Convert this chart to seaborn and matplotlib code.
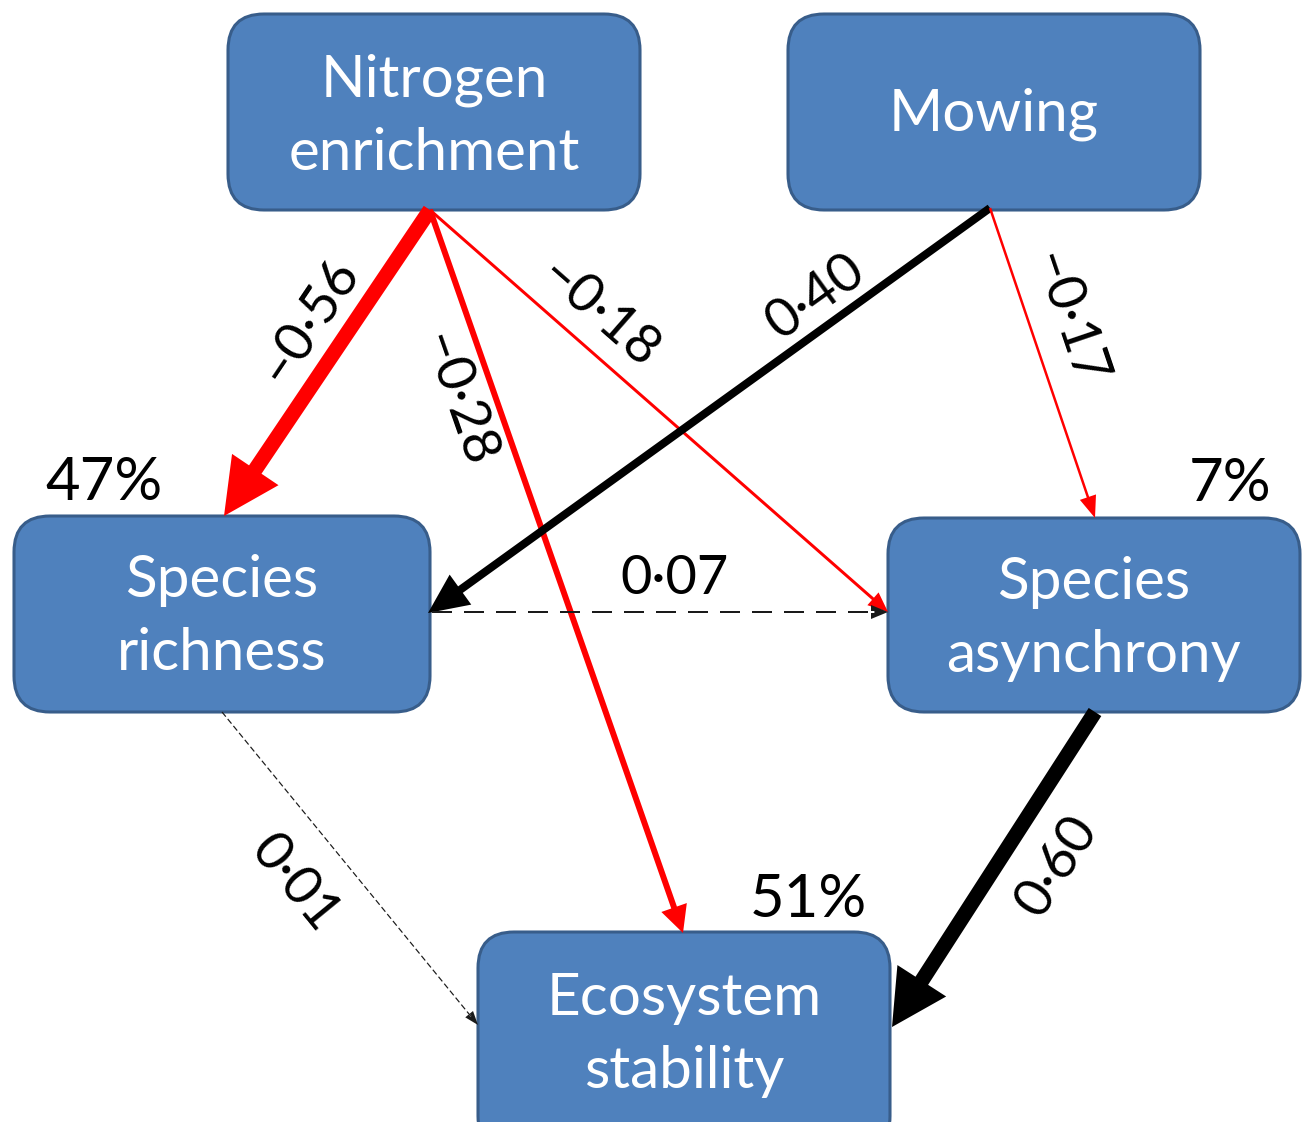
import numpy as np
import seaborn as sns
import matplotlib.pyplot as plt
from matplotlib.patches import FancyBboxPatch, FancyArrow

# Path model: nodes, explained variance, standardised path coefficients
node_names = ['Nitrogen\nenrichment', 'Mowing', 'Species\nrichness', 'Species\nasynchrony',
              'Ecosystem\nstability']
r2_nodes = ['Species\nrichness', 'Species\nasynchrony', 'Ecosystem\nstability']
r2_values = [47, 7, 51]
path_from = ['Nitrogen\nenrichment', 'Nitrogen\nenrichment', 'Nitrogen\nenrichment', 'Mowing', 'Mowing',
             'Species\nrichness', 'Species\nrichness', 'Species\nasynchrony']
path_to = ['Species\nrichness', 'Ecosystem\nstability', 'Species\nasynchrony', 'Species\nrichness',
           'Species\nasynchrony', 'Species\nasynchrony', 'Ecosystem\nstability', 'Ecosystem\nstability']
path_coef = [-0.56, -0.28, -0.18, 0.40, -0.17, 0.07, 0.01, 0.60]
path_significant = [True, True, True, True, True, False, False, True]

# Layout (pixel space of the figure, y pointing down)
node_boxes = {'Nitrogen\nenrichment': (228, 14, 412, 196), 'Mowing': (788, 14, 412, 196),
              'Species\nrichness': (14, 516, 416, 196), 'Species\nasynchrony': (888, 518, 412, 194),
              'Ecosystem\nstability': (478, 932, 412, 220)}
node_text_y = {'Nitrogen\nenrichment': 117, 'Mowing': 114, 'Species\nrichness': 617,
               'Species\nasynchrony': 619, 'Ecosystem\nstability': 1035}
r2_pos = [(104, 483), (1230, 484), (808, 900)]
path_start = [(430, 210), (430, 210), (430, 210), (990, 208), (990, 208), (432, 612), (222, 712), (1095, 712)]
path_end = [(224, 516), (683, 933), (888, 612), (428, 613), (1095, 518), (888, 612), (478, 1025), (892, 1027)]
shaft_px = [15, 6, 3, 8, 2.5, 2, 1.2, 15]
head_px = [(56, 56), (27, 27), (20, 17), (40, 37), (22, 17), (17, 14), (14, 10), (55, 58)]  # (length, width)
label_pos = [(308, 320), (457, 400), (599, 313), (815, 297), (1067, 319), (675, 578), (295, 883), (1057, 866)]

box_fill = '#4f81bd'
box_edge = '#385d8a'
font = 'Lato'

sns.set_style('white')
plt.rcParams['font.family'] = [font, 'DejaVu Sans']

fig = plt.figure(figsize=(13.06, 11.22), dpi=100)
ax = fig.add_axes([0, 0, 1, 1])
ax.set_xlim(0, 1306)
ax.set_ylim(1122, 0)
ax.axis('off')

# Boxes
for name in node_names:
    x, y, w, h = node_boxes[name]
    ax.add_patch(FancyBboxPatch((x, y), w, h, boxstyle='round,pad=0,rounding_size=36',
                                facecolor=box_fill, edgecolor=box_edge, linewidth=2.2, zorder=2))
    ax.text(x + w / 2, node_text_y[name], name, color='white', fontsize=42, ha='center', va='center',
            linespacing=1.46, zorder=3)

# R squared
for name, val, (tx, ty) in zip(r2_nodes, r2_values, r2_pos):
    ax.text(tx, ty, f'{val}%', fontsize=43, ha='center', va='center', color='black', zorder=3)


def fmt(c):
    s = f'{abs(c):.2f}'.replace('.', '\u00b7')
    return ('\u2013' + s) if c < 0 else s


# Paths
for i, coef in enumerate(path_coef):
    (x0, y0), (x1, y1) = path_start[i], path_end[i]
    color = 'red' if coef < 0 else 'black'
    hl, hw = head_px[i]
    sw = shaft_px[i]
    if path_significant[i]:
        ax.add_patch(FancyArrow(x0, y0, x1 - x0, y1 - y0, width=sw, head_width=hw, head_length=hl,
                                length_includes_head=True, color=color, linewidth=0, zorder=4))
    else:
        color = '#1a1a1a'
        L = np.hypot(x1 - x0, y1 - y0)
        ux, uy = (x1 - x0) / L, (y1 - y0) / L
        bx, by = x1 - ux * hl * 0.8, y1 - uy * hl * 0.8
        dashes = (10, 6) if abs(coef) > 0.05 else (5, 2.5)
        ax.plot([x0, bx], [y0, by], color=color, linewidth=sw * 0.72, dashes=dashes, zorder=4)
        ax.add_patch(FancyArrow(bx, by, x1 - bx, y1 - by, width=sw, head_width=hw, head_length=hl,
                                length_includes_head=True, color=color, linewidth=0, zorder=4))
    ang = np.degrees(np.arctan2(-(y1 - y0), x1 - x0))
    if ang > 90:
        ang -= 180
    elif ang <= -90:
        ang += 180
    if i == 5:
        ang = 0
    lx, ly = label_pos[i]
    ax.text(lx, ly, fmt(coef), fontsize=39, rotation=ang, rotation_mode='anchor',
            ha='center', va='center', color='black', zorder=5)

fig.savefig('out.png', dpi=100)
